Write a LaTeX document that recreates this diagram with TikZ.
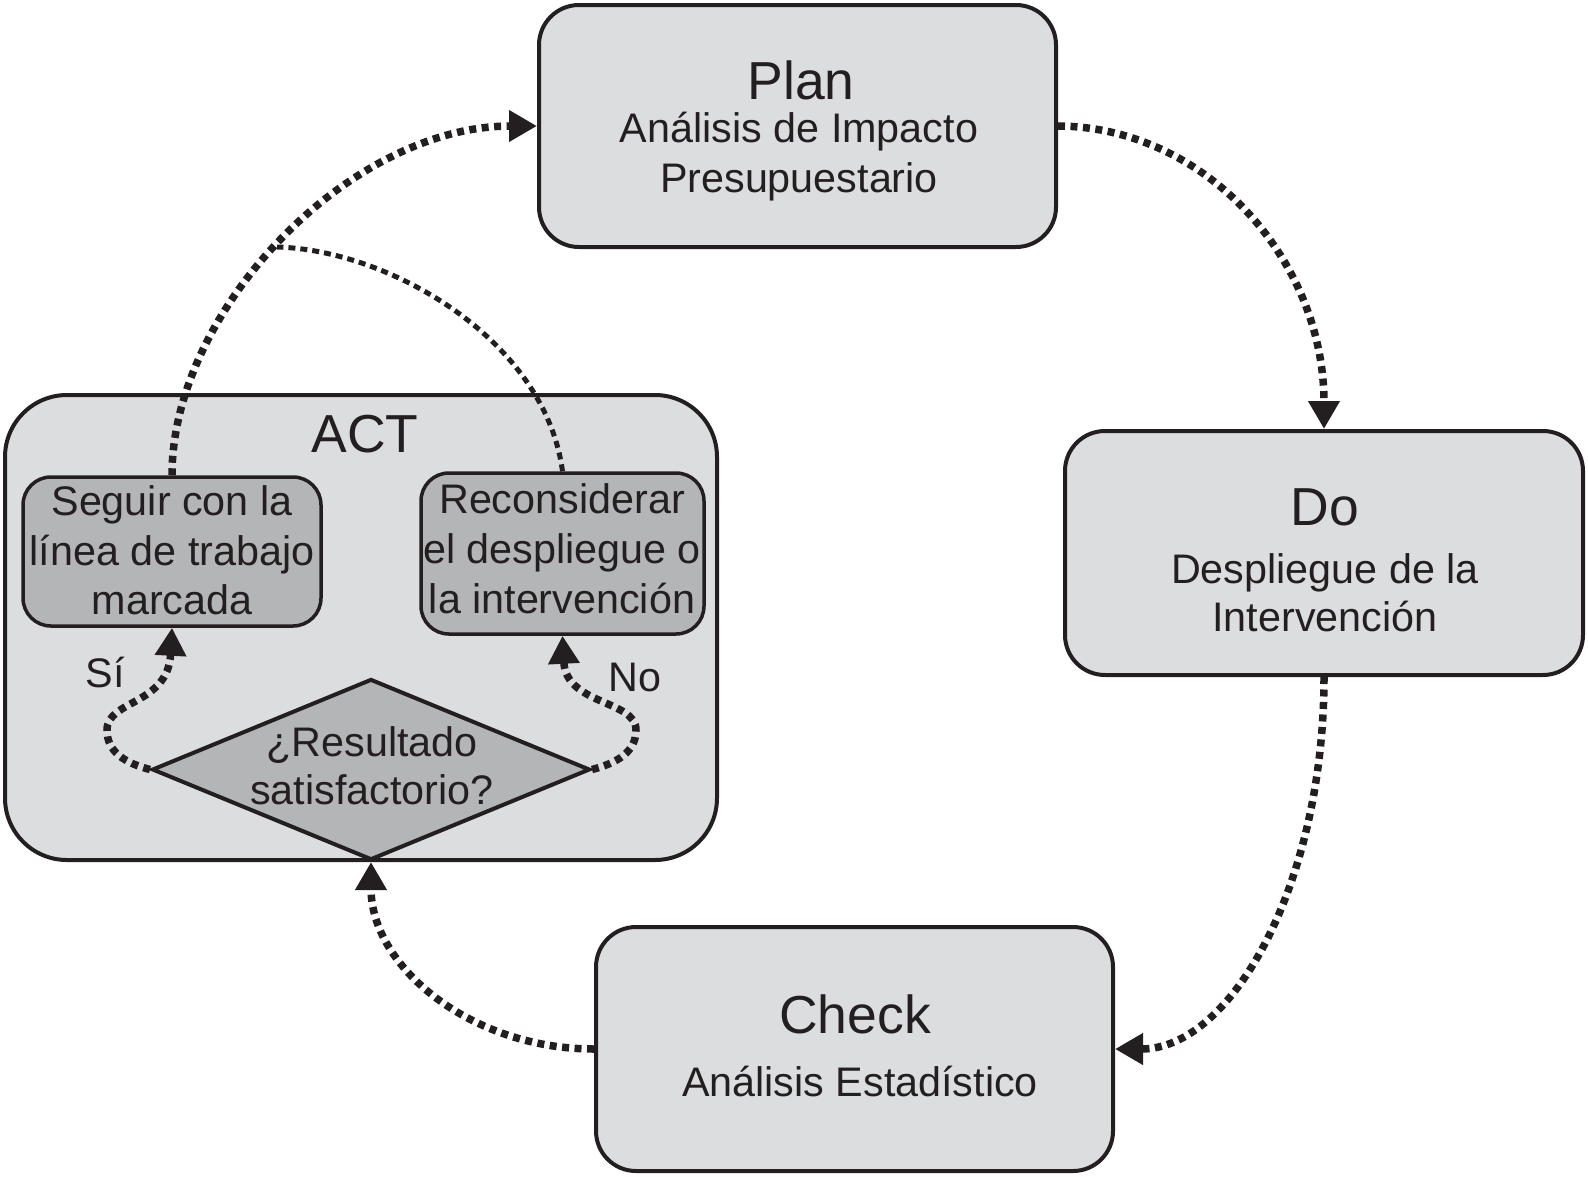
\documentclass[tikz,border=0pt]{standalone}
\usepackage{fontspec}
\setmainfont{Liberation Sans}
\usetikzlibrary{arrows.meta,shapes.geometric}
\definecolor{boxgray}{RGB}{220,221,223}
\definecolor{innergray}{RGB}{180,181,183}
\definecolor{ink}{RGB}{35,31,32}
\newcommand\bodyfnt{\fontsize{41.3pt}{49pt}\selectfont}
\newcommand\headfnt{\fontsize{53.5pt}{60pt}\selectfont}
\begin{document}
\begin{tikzpicture}[x=1pt,y=-1pt,
  bigbox/.style={draw=ink, line width=4pt, fill=boxgray, rounded corners=40pt, inner sep=0pt},
  actbox/.style={bigbox, rounded corners=62pt},
  smallbox/.style={draw=ink, line width=3.5pt, fill=innergray, rounded corners=28pt, inner sep=0pt},
  decision/.style={diamond, draw=ink, line width=4pt, fill=innergray, inner sep=0pt, aspect=2.4},
  body/.style={anchor=base, font=\bodyfnt, text=ink, inner sep=0pt},
  head/.style={anchor=base, font=\headfnt, text=ink, inner sep=0pt},
  flow/.style={draw=ink, line width=7.5pt, dash pattern=on 7pt off 5.5pt, -{Triangle[length=28pt,width=30pt]}},
  thinflow/.style={draw=ink, line width=5pt, dash pattern=on 7pt off 5pt}
]
\useasboundingbox (0,0) rectangle (1588,1176);

% main boxes
\node[bigbox, minimum width=517pt, minimum height=242pt] (plan) at (797.5,126) {};
\node[bigbox, minimum width=518pt, minimum height=244pt] (do) at (1324,553) {};
\node[bigbox, minimum width=517pt, minimum height=244pt] (check) at (854.5,1049) {};
\node[actbox, minimum width=712pt, minimum height=465pt] (act) at (361,627.5) {};

% ACT contents
\node[smallbox, minimum width=298pt, minimum height=149pt] (seg) at (172,551.5) {};
\node[smallbox, minimum width=283pt, minimum height=161pt] (rec) at (562.5,553.5) {};
\node[decision, minimum width=438pt, minimum height=181pt] (dec) at (371,769.5) {};

% texts
\node[head] (plant) at (801,99) {Plan};
\node[body] (plan1) at (799,142) {Análisis de Impacto};
\node[body] (plan2) at (799,192) {Presupuestario};

\node[head] (dot) at (1325,525) {Do};
\node[body] (do1) at (1325,583) {Despliegue de la};
\node[body] (do2) at (1325,631) {Intervención};

\node[head] (checkt) at (855,1033) {Check};
\node[body] (check1) at (860,1096) {Análisis Estadístico};

\node[head] (actt) at (365,452) {ACT};

\node[body] (seg1) at (172,515) {Seguir con la};
\node[body] (seg2) at (172,565) {línea de trabajo};
\node[body] (seg3) at (172,614) {marcada};

\node[body] (rec1) at (562,513) {Reconsiderar};
\node[body] (rec2) at (562,563) {el despliegue o};
\node[body] (rec3) at (562,613) {la intervención};

\node[body] (dec1) at (372,756) {¿Resultado};
\node[body] (dec2) at (372,804) {satisfactorio?};

\node[body] (si) at (105,687) {Sí};
\node[body] (no) at (635,691) {No};

% connectors
\coordinate (jn) at (277,247);
\draw[flow] (plan.east) .. controls (1206,127) and (1324,260) .. (do.north);
\draw[flow] (do.south) .. controls (1324,883) and (1232,1049) .. (check.east);
\draw[flow] (check.west) .. controls (471,1049) and (371,967) .. (dec.south);
\draw[flow] (seg.north) .. controls (172,310) and (350,126) .. (plan.west);
\draw[thinflow] (rec.north) .. controls (545,340) and (390,250) .. (jn);
\draw[flow] (dec.west) .. controls (125,763) and (107,752) .. (107,730)
  .. controls (107,700) and (168,705) .. (seg.south);
\draw[flow] (dec.east) .. controls (617,763) and (636,752) .. (636,730)
  .. controls (636,700) and (566,705) .. (rec.south);
\end{tikzpicture}
\end{document}
